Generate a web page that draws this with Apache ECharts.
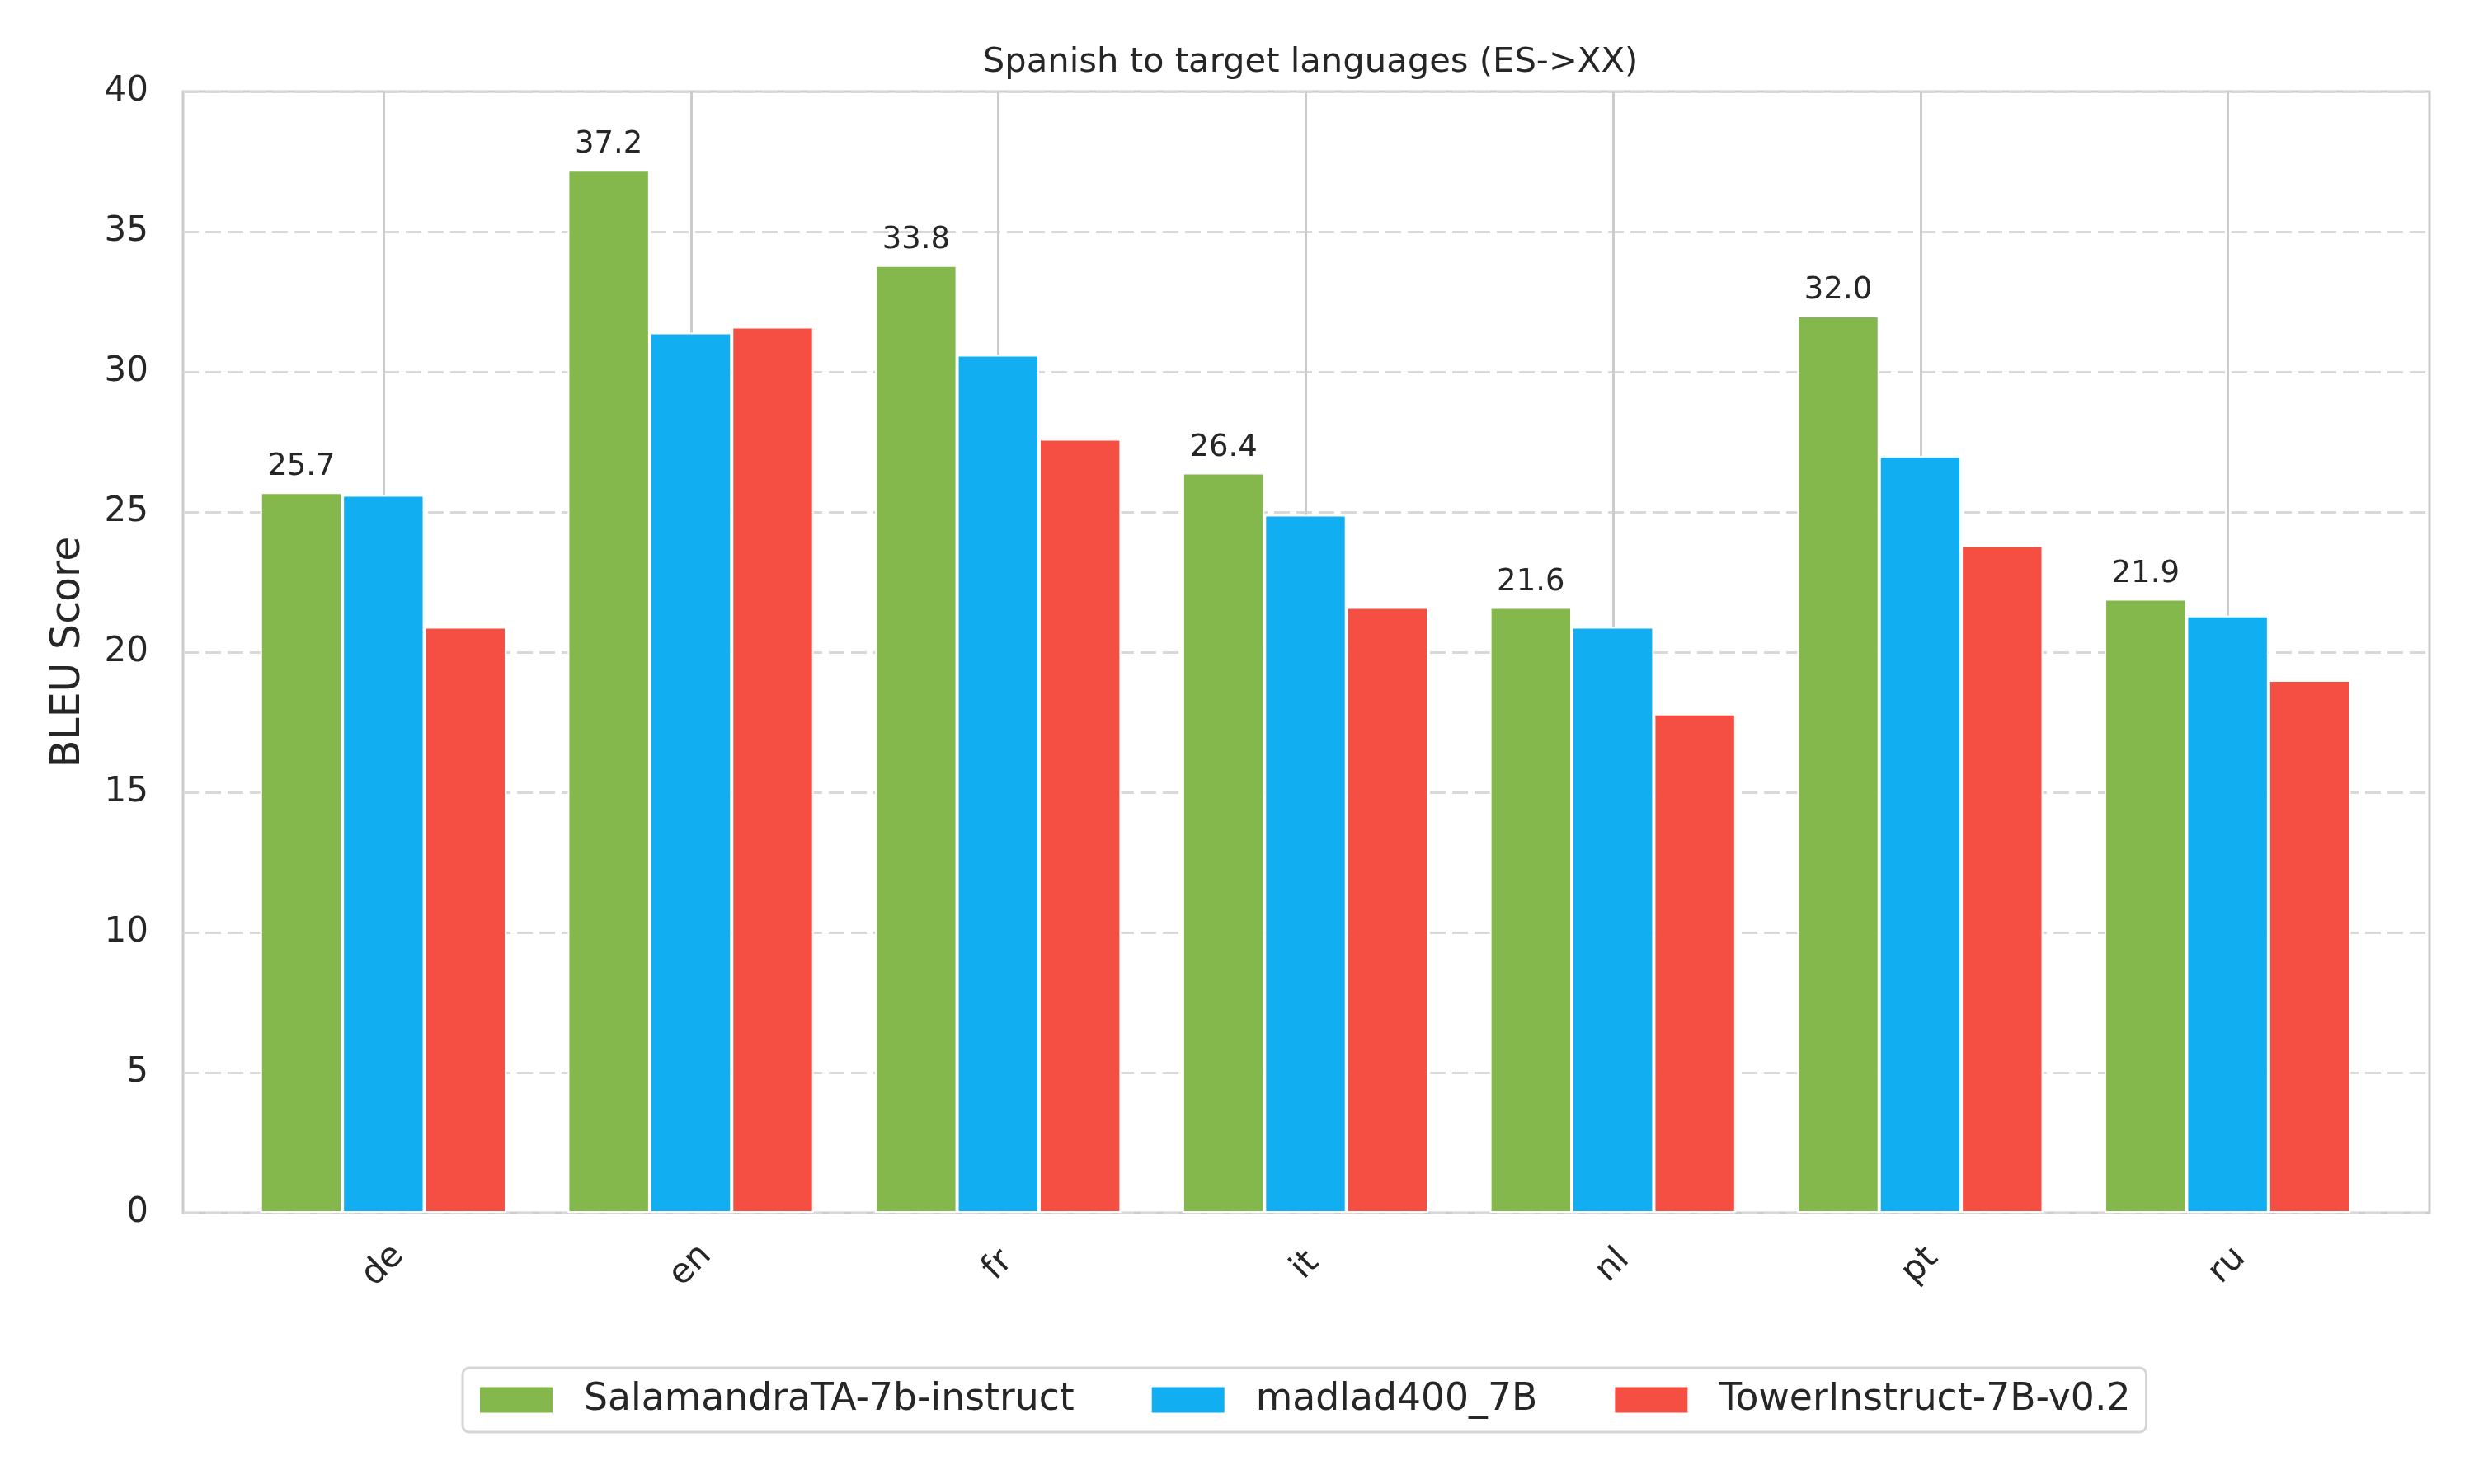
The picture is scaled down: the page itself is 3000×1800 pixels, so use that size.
<!DOCTYPE html>
<html>
<head>
<meta charset="utf-8">
<script src="https://cdn.jsdelivr.net/npm/echarts@6/dist/echarts.min.js"></script>
<style>
html,body{margin:0;padding:0;background:#fff;}
#chart{width:3000px;height:1800px;}
</style>
</head>
<body>
<div id="chart"></div>
<script>
var categories = ['de', 'en', 'fr', 'it', 'nl', 'pt', 'ru'];
var seriesNames = ['SalamandraTA-7b-instruct', 'madlad400_7B', 'TowerInstruct-7B-v0.2'];
var salamandra = [25.7, 37.2, 33.8, 26.4, 21.6, 32.0, 21.9];
var madlad = [25.6, 31.4, 30.6, 24.9, 20.9, 27.0, 21.3];
var tower = [20.9, 31.6, 27.6, 21.6, 17.8, 23.8, 19.0];
var yTicks = [0, 5, 10, 15, 20, 25, 30, 35, 40];
var colors = ['#84B74C', '#11AEF2', '#F54E42'];

var FONT = 'DejaVu Sans';
var TXT = '#262626';
var chart = echarts.init(document.getElementById('chart'), null, {renderer: 'canvas'});

var gridTop = 111, gridBottom = 329;
var option = {
  backgroundColor: '#ffffff',
  animation: false,
  textStyle: {fontFamily: FONT, color: TXT},
  title: {
    text: 'Spanish to target languages (ES->XX)',
    left: 1584, top: 50, textAlign: 'center',
    textStyle: {fontFamily: FONT, fontSize: 41.7, fontWeight: 'normal', color: TXT}
  },
  legend: {
    data: seriesNames,
    left: 561, top: 1659,
    orient: 'horizontal',
    itemWidth: 88, itemHeight: 31, itemGap: 94,
    padding: [16, 19, 16, 21],
    borderColor: '#d6d6d6', borderWidth: 3, borderRadius: 8,
    backgroundColor: '#ffffff',
    icon: 'rect',
    itemStyle: {borderWidth: 0},
    textStyle: {fontFamily: FONT, fontSize: 45.7, color: TXT, padding: [0, 0, 0, 33]}
  },
  grid: [
    {left: 222, right: 54, top: gridTop, bottom: gridBottom, show: true, borderColor: '#cccccc', borderWidth: 3, backgroundColor: 'transparent', containLabel: false},
    {left: 278.5, right: 112.5, top: gridTop, bottom: gridBottom, containLabel: false},
    {left: 465, right: 298.5, top: gridTop, bottom: gridBottom, containLabel: false}
  ],
  xAxis: [
    {gridIndex: 0, type: 'value', min: 0, max: 1, show: false},
    {gridIndex: 1, type: 'category', data: categories,
      axisLine: {show: false}, axisTick: {show: false}, splitLine: {show: false},
      axisLabel: {rotate: 45, align: 'center', verticalAlign: 'middle', margin: 64, fontFamily: FONT, fontSize: 42, color: TXT}
    },
    {gridIndex: 2, type: 'value', min: 0, max: 6, interval: 1,
      axisLine: {show: false}, axisTick: {show: false}, axisLabel: {show: false},
      splitLine: {show: true, lineStyle: {color: '#cccccc', width: 3, type: 'solid'}}
    }
  ],
  yAxis: [
    {gridIndex: 0, type: 'value', min: 0, max: 40, interval: 5,
      name: 'BLEU Score', nameLocation: 'middle', nameGap: 114,
      nameTextStyle: {fontFamily: FONT, fontSize: 49, color: TXT},
      axisLine: {show: false}, axisTick: {show: false},
      axisLabel: {margin: 42, fontFamily: FONT, fontSize: 42, color: TXT},
      splitLine: {show: true, lineStyle: {color: '#d9d9d9', width: 3, type: [19, 8]}}
    },
    {gridIndex: 1, type: 'value', min: 0, max: 40, interval: 5, show: false, splitLine: {show: false}},
    {gridIndex: 2, type: 'value', min: 0, max: 40, interval: 5, show: false, splitLine: {show: false}}
  ],
  series: [
    {name: seriesNames[0], type: 'bar', xAxisIndex: 1, yAxisIndex: 1, data: salamandra,
      barWidth: '26.67%', barGap: '0%',
      itemStyle: {color: colors[0], borderColor: '#ffffff', borderWidth: 2},
      label: {show: true, position: 'top', distance: 12, fontFamily: FONT, fontSize: 37, color: TXT,
        formatter: function (p) { return p.value.toFixed(1); }}
    },
    {name: seriesNames[1], type: 'bar', xAxisIndex: 1, yAxisIndex: 1, data: madlad,
      barWidth: '26.67%', barGap: '0%',
      itemStyle: {color: colors[1], borderColor: '#ffffff', borderWidth: 2}
    },
    {name: seriesNames[2], type: 'bar', xAxisIndex: 1, yAxisIndex: 1, data: tower,
      barWidth: '26.67%', barGap: '0%',
      itemStyle: {color: colors[2], borderColor: '#ffffff', borderWidth: 2}
    }
  ]
};
chart.setOption(option);
</script>
</body>
</html>
